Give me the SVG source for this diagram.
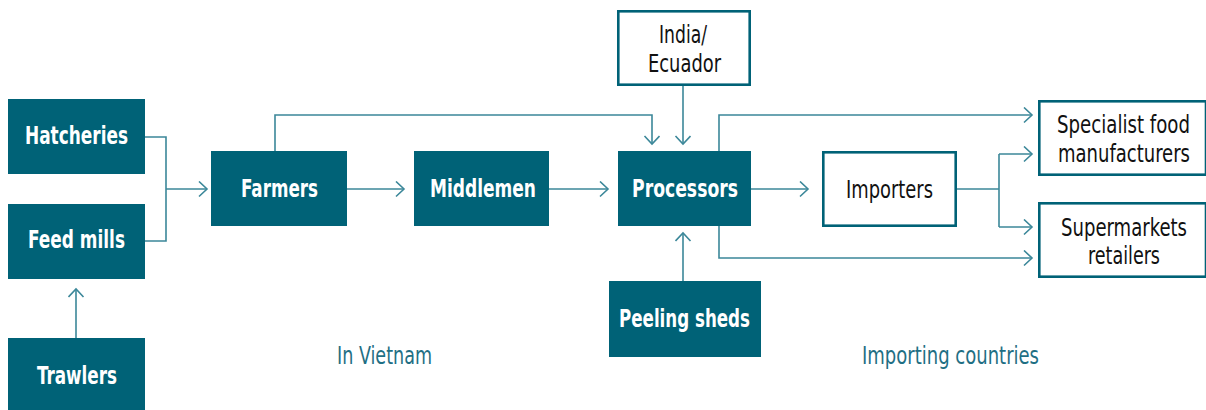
<svg xmlns="http://www.w3.org/2000/svg" width="1206" height="410" viewBox="0 0 1206 410">
<style>
.f{fill:#006277}
.o{fill:#fff;stroke:#006277;stroke-width:2.6}
text{font-family:"Liberation Sans Narrow","DejaVu Sans Condensed","Liberation Sans",sans-serif;font-size:25px}
.w{fill:#fff;font-weight:bold}
.k{fill:#111}
.l{fill:#1f6f84}
.c{fill:none;stroke:#3b8799;stroke-width:1.6}
</style>
<defs>
<marker id="a" markerUnits="userSpaceOnUse" markerWidth="12" markerHeight="18" refX="9" refY="8" orient="auto">
<path d="M1,0.5 L9,8 L1,15.5" fill="none" stroke="#3b8799" stroke-width="1.6"/>
</marker>
</defs>
<g id="connectors">
<path class="c" d="M145,137 H166 V241 H145"/>
<path class="c" d="M166,189 H207" marker-end="url(#a)"/>
<path class="c" d="M76,338 V289" marker-end="url(#a)"/>
<path class="c" d="M347,189 H404" marker-end="url(#a)"/>
<path class="c" d="M549,189 H608" marker-end="url(#a)"/>
<path class="c" d="M275,151 V115 H652 V144" marker-end="url(#a)"/>
<path class="c" d="M683,86 V144" marker-end="url(#a)"/>
<path class="c" d="M683,281 V233" marker-end="url(#a)"/>
<path class="c" d="M751,189 H808" marker-end="url(#a)"/>
<path class="c" d="M719,151 V115 H1032" marker-end="url(#a)"/>
<path class="c" d="M719,226 V258 H1032" marker-end="url(#a)"/>
<path class="c" d="M957,189 H999"/>
<path class="c" d="M999,154 V227"/>
<path class="c" d="M999,154 H1032" marker-end="url(#a)"/>
<path class="c" d="M999,227 H1032" marker-end="url(#a)"/>
</g>
<g id="hatcheries"><rect class="f" x="8" y="99" width="137" height="75"/><text class="w" x="25" y="144" textLength="103" lengthAdjust="spacingAndGlyphs">Hatcheries</text></g>
<g id="feedmills"><rect class="f" x="8" y="204" width="137" height="75"/><text class="w" x="28" y="248" textLength="97" lengthAdjust="spacingAndGlyphs">Feed mills</text></g>
<g id="trawlers"><rect class="f" x="8" y="338" width="137" height="75"/><text class="w" x="37" y="384" textLength="80" lengthAdjust="spacingAndGlyphs">Trawlers</text></g>
<g id="farmers"><rect class="f" x="211" y="151" width="136" height="75"/><text class="w" x="241" y="197" textLength="77" lengthAdjust="spacingAndGlyphs">Farmers</text></g>
<g id="middlemen"><rect class="f" x="414" y="151" width="135" height="75"/><text class="w" x="430" y="197" textLength="106" lengthAdjust="spacingAndGlyphs">Middlemen</text></g>
<g id="processors"><rect class="f" x="618" y="151" width="133" height="75"/><text class="w" x="632" y="197" textLength="106" lengthAdjust="spacingAndGlyphs">Processors</text></g>
<g id="india"><rect class="o" x="618.3" y="11.3" width="131.4" height="73.4"/><text class="k" x="659" y="43" textLength="48" lengthAdjust="spacingAndGlyphs">India/</text><text class="k" x="648" y="72" textLength="73" lengthAdjust="spacingAndGlyphs">Ecuador</text></g>
<g id="peeling"><rect class="f" x="609" y="281" width="152" height="76"/><text class="w" x="619" y="327" textLength="131" lengthAdjust="spacingAndGlyphs">Peeling sheds</text></g>
<g id="importers"><rect class="o" x="823.3" y="152.3" width="132.4" height="73.4"/><text class="k" x="846" y="198" textLength="87" lengthAdjust="spacingAndGlyphs">Importers</text></g>
<g id="specialist"><rect class="o" x="1039.3" y="101.3" width="166.7" height="73.4"/><text class="k" x="1057" y="133" textLength="133" lengthAdjust="spacingAndGlyphs">Specialist food</text><text class="k" x="1058" y="162" textLength="132" lengthAdjust="spacingAndGlyphs">manufacturers</text></g>
<g id="supermarkets"><rect class="o" x="1039.3" y="203.3" width="166.7" height="73.4"/><text class="k" x="1061" y="236" textLength="126" lengthAdjust="spacingAndGlyphs">Supermarkets</text><text class="k" x="1088" y="264" textLength="72" lengthAdjust="spacingAndGlyphs">retailers</text></g>
<g id="labels"><text class="l" x="337" y="364" textLength="95" lengthAdjust="spacingAndGlyphs">In Vietnam</text><text class="l" x="862" y="364" textLength="177" lengthAdjust="spacingAndGlyphs">Importing countries</text></g>
</svg>
